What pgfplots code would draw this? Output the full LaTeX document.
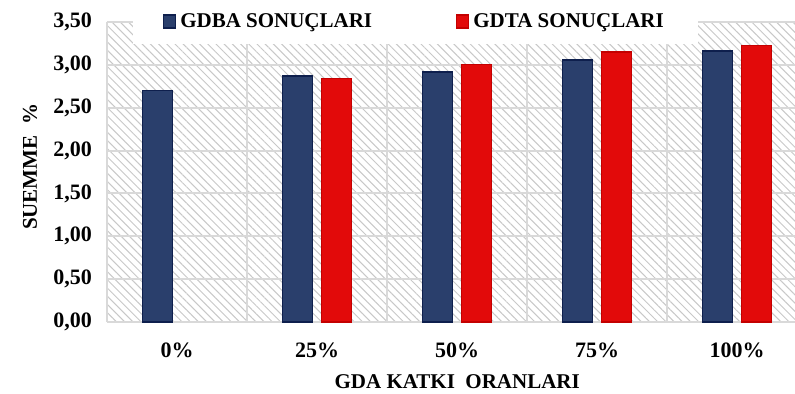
\documentclass[border=0pt]{standalone}
\usepackage{fontspec}
\setmainfont{Liberation Serif}
\usepackage{pgfplots}
\pgfplotsset{compat=1.18}
\usetikzlibrary{patterns.meta}
\definecolor{navyfill}{HTML}{2A3F6C}
\definecolor{navyedge}{HTML}{0E1F4D}
\definecolor{redfill}{HTML}{E20A0A}
\definecolor{rededge}{HTML}{C40000}
\definecolor{gridc}{HTML}{D9D9D9}
\definecolor{hatchc}{HTML}{C8C8C8}
\begin{document}
\begin{tikzpicture}
\begin{axis}[
  scale only axis,
  width=344pt, height=150pt,
  xmin=-0.5, xmax=4.414,
  ymin=0, ymax=3.5,
  ytick={0,0.5,...,3.5},
  xtick={0,1,2,3,4},
  xticklabels={0\%,25\%,50\%,75\%,100\%},
  minor xtick={-0.5,0.5,1.5,2.5,3.5},
  xminorgrids=true, ymajorgrids=true, xmajorgrids=false,
  grid style={draw=gridc, line width=1pt},
  minor grid style={draw=gridc, line width=1pt},
  major tick length=0pt, minor tick length=0pt,
  axis line style={draw=gridc, line width=1pt},
  axis x line*=bottom, axis y line*=left,
  y axis line style={draw=none},
  axis background/.style={pattern={Lines[angle=-45,distance=2.9pt,line width=0.5pt]}, pattern color=hatchc},
  /pgf/number format/.cd, use comma, fixed, fixed zerofill, precision=2, assume math mode=true,
  /pgfplots/.cd,
  ticklabel style={font=\fontsize{11}{13}\selectfont\bfseries},
  yticklabel style={xshift=-4pt},
  xticklabel style={yshift=-7pt},
  ybar=4.5pt, bar width=15pt,
  xlabel={GDA KATKI\ \ ORANLARI},
  xlabel style={at={(rel axis cs:0.509,0)}, anchor=center, yshift=-30pt, font=\fontsize{10.5}{12}\selectfont\bfseries},
  ylabel={SUEMME\ \ \%},
  ylabel style={at={(rel axis cs:0,0.517)}, anchor=center, yshift=38.5pt, font=\fontsize{10.5}{12}\selectfont\bfseries},
  legend columns=2,
  legend style={at={(0.448,1)}, anchor=center, draw=none, fill=white, inner xsep=15pt, inner ysep=5pt,
    font=\fontsize{10.5}{12}\selectfont\bfseries,
    /tikz/every even column/.append style={column sep=40pt}},
  legend image code/.code={\fill[#1] (0pt,-3pt) rectangle (6pt,3.5pt);},
  clip=false,
]
\addplot[fill=navyfill, draw=navyedge, line width=0.8pt] coordinates {(0,2.70) (1,2.87) (2,2.92) (3,3.06) (4,3.16)};
\addplot[fill=redfill, draw=rededge, line width=0.6pt] coordinates {(1,2.84) (2,3.00) (3,3.15) (4,3.23)};
\legend{GDBA SONUÇLARI, GDTA SONUÇLARI}
\end{axis}
\pgfresetboundingbox
\path (-53.5pt,-36pt) rectangle (344pt,161pt);
\end{tikzpicture}
\end{document}
